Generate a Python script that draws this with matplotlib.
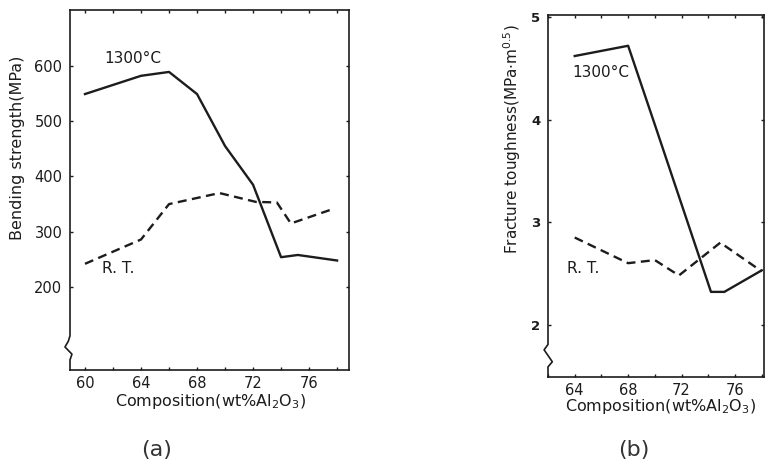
import numpy as np
import matplotlib.pyplot as plt

# (a) bending strength vs composition
comp_a_hot = [60, 64, 66, 68, 70, 72, 74, 75.2, 78]
strength_hot = [549, 582, 589, 549, 455, 385, 254, 258, 248]
comp_a_rt = [60, 64, 66, 69.6, 72.2, 73.7, 74.7, 77.8]
strength_rt = [242, 286, 350, 370, 354, 353, 315, 342]

# (b) fracture toughness vs composition
comp_b_hot = [64, 68, 70, 74.2, 75.2, 78]
tough_hot = [4.62, 4.72, 3.95, 2.32, 2.32, 2.53]
comp_b_rt = [64, 68, 70, 71.8, 74.9, 78]
tough_rt = [2.85, 2.60, 2.63, 2.48, 2.80, 2.52]

xticks_a = [60, 64, 68, 72, 76]
yticks_a = [200, 300, 400, 500, 600]
xticks_b = [64, 68, 72, 76]
yticks_b = [2, 3, 4, 5]

ink = '#1c1c1c'
fs = 10.5
fs_lab = 11.5
W, H = 767, 468

fig = plt.figure(figsize=(W / 100, H / 100), dpi=100)


def px_axes(l, r, t, b):
    return fig.add_axes([l / W, 1 - b / H, (r - l) / W, (b - t) / H])


def style_axes(ax, xmajor, ymajor, xminor_step):
    ax.set_xticks(xmajor)
    ax.set_yticks(ymajor)
    lo, hi = ax.get_xlim()
    ax.set_xticks(np.arange(np.ceil(lo / xminor_step) * xminor_step, hi, xminor_step), minor=True)
    ax.tick_params(which='both', direction='in', top=True, right=True, length=2.5,
                   width=1.0, color=ink, labelcolor=ink, labelsize=fs)
    ax.tick_params(axis='y', pad=5.5)
    ax.tick_params(axis='x', pad=4)
    for s in ax.spines.values():
        s.set_color(ink)
        s.set_linewidth(1.2)
    ax.spines['left'].set_visible(False)


def draw_break(ax, pts):
    xs, ys = zip(*pts)
    ax.plot(xs, ys, color=ink, lw=1.2, transform=ax.transAxes, clip_on=False)


# ---- panel (a)
ax1 = px_axes(70, 349, 10, 370)
ax1.set_xlim(58.93, 78.85)
ax1.set_ylim(50, 701)
ax1.plot(comp_a_hot, strength_hot, color=ink, lw=1.7)
ax1.plot(comp_a_rt, strength_rt, color=ink, lw=1.7, dashes=(3.8, 2.3))
style_axes(ax1, xticks_a, yticks_a, 2)
draw_break(ax1, [(0, 1), (0, 0.095), (-0.006, 0.08), (-0.018, 0.064),
                 (0.007, 0.044), (0, 0.028), (0, 0)])
ax1.text(61.4, 614, '1300°C', fontsize=fs + 0.5, color=ink, va='center')
ax1.text(61.2, 234, 'R. T.', fontsize=fs + 0.5, color=ink, va='center')
ax1.set_xlabel('Composition(wt%Al$_2$O$_3$)', fontsize=fs_lab, color=ink)
ax1.xaxis.set_label_coords(0.505, -0.06)
ax1.set_ylabel('Bending strength(MPa)', fontsize=fs_lab, color=ink)
ax1.yaxis.set_label_coords(-0.16, 0.617)

# ---- panel (b)
ax2 = px_axes(548, 764, 15, 377)
ax2.set_xlim(62.0, 78.17)
ax2.set_ylim(1.49, 5.02)
ax2.plot(comp_b_hot, tough_hot, color=ink, lw=1.7)
ax2.plot(comp_b_rt, tough_rt, color=ink, lw=1.7, dashes=(3.8, 2.3))
style_axes(ax2, xticks_b, yticks_b, 2)
draw_break(ax2, [(0, 1), (0, 0.09), (-0.018, 0.075), (0.02, 0.042), (0, 0.028), (0, 0)])
ax2.set_yticklabels([str(v) for v in yticks_b], fontsize=fs - 1, fontweight='bold')
ax2.text(63.8, 4.46, '1300°C', fontsize=fs + 0.5, color=ink, va='center')
ax2.text(63.4, 2.55, 'R. T.', fontsize=fs + 0.5, color=ink, va='center')
ax2.set_xlabel('Composition(wt%Al$_2$O$_3$)', fontsize=fs_lab, color=ink)
ax2.xaxis.set_label_coords(0.52, -0.056)
ax2.set_ylabel('Fracture toughness(MPa$\\cdot$m$^{0.5}$)', fontsize=fs_lab - 0.5, color=ink)
ax2.yaxis.set_label_coords(-0.115, 0.657)

fig.text(157 / W, 1 - 450 / H, '(a)', fontsize=16, color='#333333', ha='center', va='center')
fig.text(634 / W, 1 - 450 / H, '(b)', fontsize=16, color='#333333', ha='center', va='center')

fig.savefig('out.png', dpi=100)
